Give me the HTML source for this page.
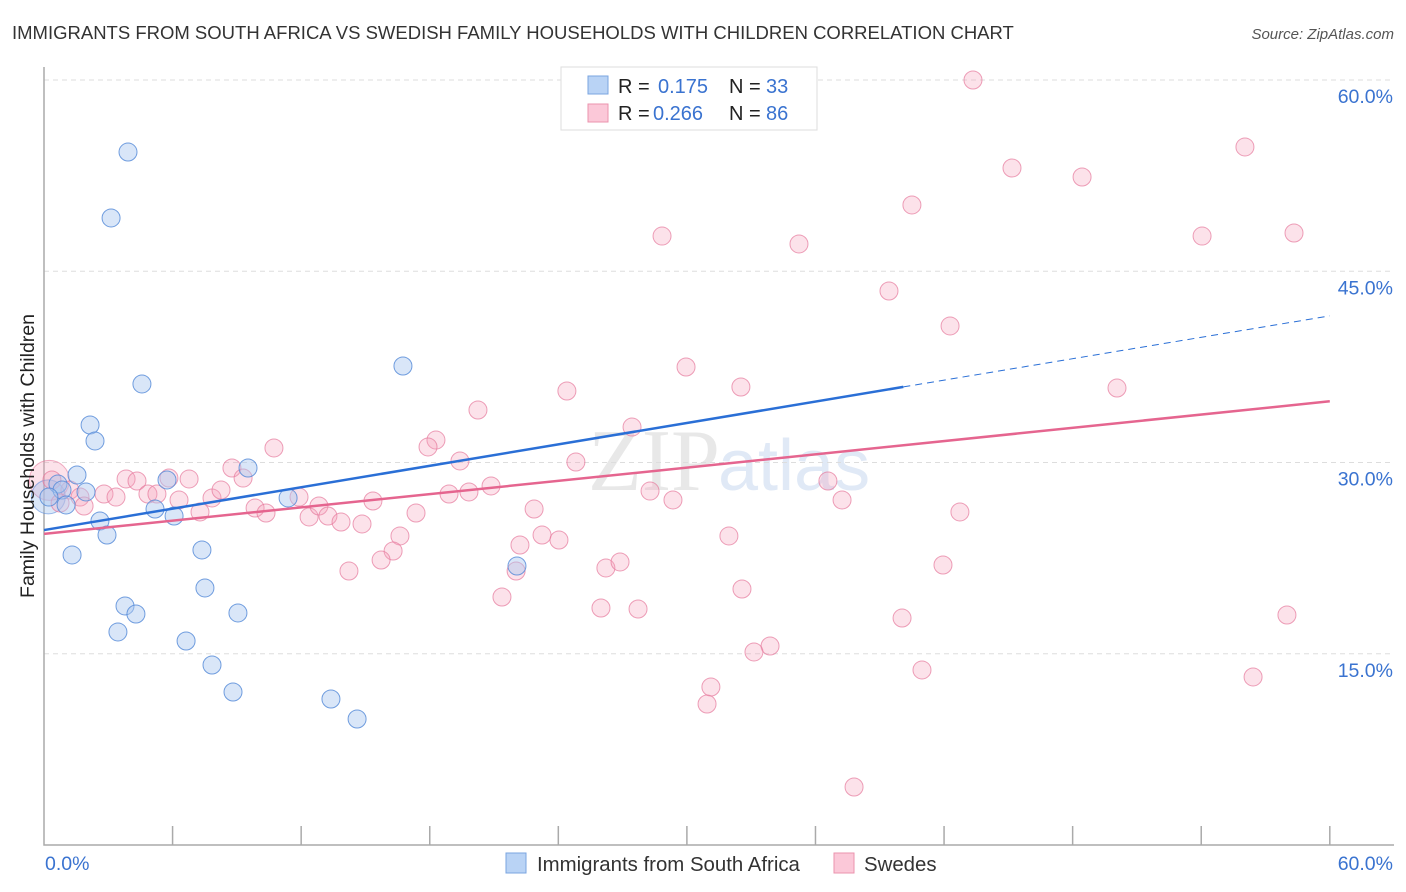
<!DOCTYPE html>
<html><head><meta charset="utf-8"><style>
body{margin:0;background:#fff;font-family:"Liberation Sans",sans-serif;}
svg{display:block}
</style></head><body>
<svg id="chart" width="1406" height="892">
<text x="12" y="39" font-size="18.5" fill="#333">IMMIGRANTS FROM SOUTH AFRICA VS SWEDISH FAMILY HOUSEHOLDS WITH CHILDREN CORRELATION CHART</text>
<text x="1394" y="39" font-size="15" fill="#555" font-style="italic" text-anchor="end">Source: ZipAtlas.com</text>
<text x="720" y="490" font-size="88" fill="#e8e8e8" text-anchor="end" font-family="Liberation Serif">ZIP</text>
<text x="718" y="490" font-size="72" fill="#e0e9f6">atlas</text>
<g id="grid"></g>
<g id="axes"></g>
<g id="pts"></g>
<g id="lines"></g>
<text transform="translate(34,456) rotate(-90)" font-size="19.5" fill="#222" text-anchor="middle">Family Households with Children</text>
<g>
<rect x="561" y="67" width="256" height="63" fill="#fff" stroke="#ddd"/>
<rect x="588" y="76" width="20" height="18" fill="#b9d3f5" stroke="#7aa5e0"/>
<rect x="588" y="104" width="20" height="18" fill="#fbc8d8" stroke="#eb93ae"/>
<text x="618" y="93" font-size="20" fill="#222">R =</text><text x="658" y="93" font-size="20" fill="#3a73d0">0.175</text>
<text x="729" y="93" font-size="20" fill="#222">N =</text><text x="766" y="93" font-size="20" fill="#3a73d0">33</text>
<text x="618" y="120" font-size="20" fill="#222">R =</text><text x="653" y="120" font-size="20" fill="#3a73d0">0.266</text>
<text x="729" y="120" font-size="20" fill="#222">N =</text><text x="766" y="120" font-size="20" fill="#3a73d0">86</text>
</g>
<g>
<rect x="506" y="853" width="20" height="20" fill="#b9d3f5" stroke="#7aa5e0"/>
<text x="537" y="871" font-size="20.4" fill="#333">Immigrants from South Africa</text>
<rect x="834" y="853" width="20" height="20" fill="#fbc8d8" stroke="#eb93ae"/>
<text x="864" y="871" font-size="20.4" fill="#333">Swedes</text>
</g>
</svg>
<script>
const yTicks=[15,30,45,60];
const yTickLabels=["15.0%","30.0%","45.0%","60.0%"];
const xTickLabels=["0.0%","60.0%"];
const blueX=[3.92,3.13,4.57,2.15,2.38,1.54,0.65,0.84,1.96,1.03,0.23,2.61,2.94,1.31,5.18,6.07,5.74,9.52,7.37,7.51,3.78,4.29,3.45,6.63,7.84,8.82,9.05,13.39,14.61,16.75,11.39,22.07,33.55];
const blueY=[54.35,49.18,36.16,32.94,31.69,29.02,28.31,27.84,27.69,26.67,27.29,25.41,24.31,22.75,26.35,25.8,28.63,29.57,23.14,20.16,18.75,18.12,16.71,16.0,14.12,12.0,18.2,11.45,9.88,37.57,27.22,21.88,58.4];
const pinkX=[43.35,56.04,45.17,48.44,40.5,28.84,35.23,54.04,58.33,39.43,42.28,29.96,32.52,24.4,50.07,20.25,18.29,17.92,27.44,19.41,24.82,10.73,8.77,9.29,5.83,3.83,4.34,6.77,2.8,3.36,4.85,5.27,6.3,7.84,8.26,11.9,0.37,1.21,1.68,0.75,1.87,7.28,9.85,10.36,12.37,12.83,13.25,13.86,14.84,15.35,16.61,17.36,16.29,15.73,14.23,18.9,19.83,20.86,22.87,22.21,23.24,24.03,22.03,21.37,25.99,26.22,26.88,27.72,28.28,29.35,31.96,32.57,33.88,33.13,31.12,30.94,36.58,37.24,42.74,41.95,40.04,40.97,37.8,58.0,56.42];
const pinkY=[60.0,54.75,53.1,52.39,50.2,47.76,47.14,47.76,48.0,43.45,40.71,37.49,35.92,35.61,35.84,34.12,31.76,31.22,32.78,30.12,30.04,31.14,29.57,28.78,28.78,28.71,28.55,28.71,27.53,27.29,27.53,27.53,27.06,27.22,27.84,27.29,28.63,27.84,27.29,26.82,26.59,26.12,26.43,26.04,25.73,26.59,25.8,25.33,25.18,26.98,24.24,26.04,23.06,22.35,21.49,27.53,27.69,28.16,26.35,23.53,24.31,23.92,21.49,19.45,18.59,21.73,22.2,18.51,27.76,27.06,24.24,20.08,15.61,15.14,12.39,11.06,28.55,27.06,26.12,21.96,17.8,13.73,4.55,18.04,13.18];
const blueTrend=[24.7,41.5]; const blueSolidEnd=40.1;
const pinkTrend=[24.4,34.8];
const NS="http://www.w3.org/2000/svg";
const X=v=>44+v*21.43, Y=v=>845-v*12.75;
function mk(tag,at,parent){const e=document.createElementNS(NS,tag);for(const k in at)e.setAttribute(k,at[k]);document.getElementById(parent).appendChild(e);return e;}
yTicks.forEach((t,i)=>{
 const g=mk('line',{x1:44,x2:1394,y1:Y(t),y2:Y(t),stroke:'#ddd','stroke-dasharray':'5,4'},'grid');
 
 
 const l=mk('text',{x:1393,y:Y(t)+23,'font-size':19.5,fill:'#3a73d0','text-anchor':'end'},'axes');
 l.textContent=yTickLabels[i];
 
 
});
const ax=mk('path',{d:'M44,67V845H1394',fill:'none',stroke:'#aaa','stroke-width':1.5},'axes');


for(let i=1;i<=10;i++){const t=mk('line',{x1:X(i*6),x2:X(i*6),y1:826,y2:845,stroke:'#aaa','stroke-width':1.5},'axes');
 
 }
[[0,45,'start'],[60,1393,'end']].forEach((d,i)=>{const t=mk('text',{x:d[1],y:870,'font-size':19.5,fill:'#3a73d0','text-anchor':d[2]},'axes');t.textContent=xTickLabels[i];
 
 });
const big1=mk('circle',{cx:X(0.25),cy:Y(28.6),r:20,fill:'rgba(245,160,185,0.3)',stroke:'rgba(230,120,155,0.6)'},'pts');


const big2=mk('circle',{cx:X(0.2),cy:Y(27.3),r:17,fill:'rgba(150,185,235,0.35)',stroke:'rgba(90,140,220,0.6)'},'pts');


pinkX.forEach((x,i)=>{const c=mk('circle',{cx:X(x),cy:Y(pinkY[i]),r:9,fill:'rgba(245,160,185,0.3)',stroke:'rgba(230,120,155,0.7)'},'pts');
 
 });
blueX.forEach((x,i)=>{const c=mk('circle',{cx:X(x),cy:Y(blueY[i]),r:9,fill:'rgba(170,200,240,0.45)',stroke:'rgba(80,135,215,0.8)'},'pts');
 
 });
const bAt=x=>blueTrend[0]+(blueTrend[1]-blueTrend[0])*x/60;
const b1=mk('line',{x1:X(0),y1:Y(bAt(0)),x2:X(blueSolidEnd),y2:Y(bAt(blueSolidEnd)),stroke:'#2a6fd6','stroke-width':2.5},'lines');


const b2=mk('line',{x1:X(blueSolidEnd),y1:Y(bAt(blueSolidEnd)),x2:X(60),y2:Y(bAt(60)),stroke:'#2a6fd6','stroke-width':1,'stroke-dasharray':'7,5'},'lines');


const p1=mk('line',{x1:X(0),y1:Y(pinkTrend[0]),x2:X(60),y2:Y(pinkTrend[1]),stroke:'#e5658f','stroke-width':2.5},'lines');


</script>
</body></html>
